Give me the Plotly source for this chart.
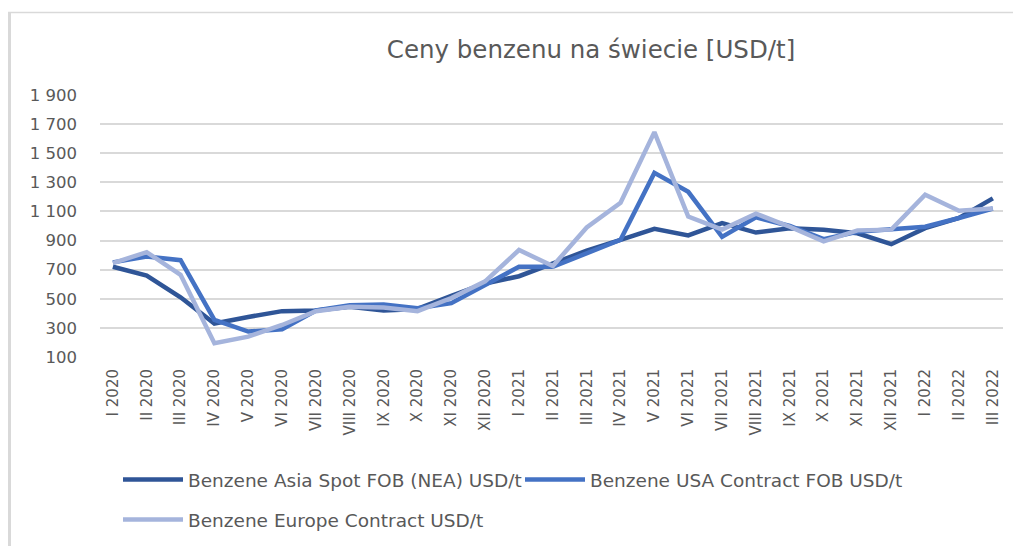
import plotly.graph_objects as go

months = ["I 2020", "II 2020", "III 2020", "IV 2020", "V 2020", "VI 2020", "VII 2020",
          "VIII 2020", "IX 2020", "X 2020", "XI 2020", "XII 2020",
          "I 2021", "II 2021", "III 2021", "IV 2021", "V 2021", "VI 2021", "VII 2021",
          "VIII 2021", "IX 2021", "X 2021", "XI 2021", "XII 2021",
          "I 2022", "II 2022", "III 2022"]

asia = [720, 660, 510, 330, 375, 415, 420, 445, 420, 430, 520, 605,
        655, 745, 830, 905, 980, 935, 1020, 955, 985, 975, 950, 875,
        985, 1055, 1190]
usa = [750, 790, 765, 355, 275, 290, 420, 455, 460, 435, 470, 595,
       720, 720, 810, 905, 1365, 1235, 925, 1060, 1000, 910, 960, 975,
       995, 1055, 1120]
europe = [745, 820, 665, 195, 240, 320, 415, 445, 440, 415, 505, 620,
          835, 725, 990, 1160, 1645, 1065, 975, 1085, 995, 895, 970, 975,
          1215, 1105, 1120]

y_ticks = list(range(100, 2000, 200))
y_ticktext = [f"{v:,}".replace(",", " ") for v in y_ticks]

series_names = ["Benzene Asia Spot FOB (NEA) USD/t",
                "Benzene USA Contract FOB USD/t",
                "Benzene Europe Contract USD/t"]
colors = ["#2F5597", "#4472C4", "#A5B4DC"]

FONT = "DejaVu Sans"
GREY = "#595959"
OFF = 8                      # browser body margin
W, H = 1021 - OFF, 546 - OFF
# plot area in page pixels: x 100..1003, y 95..357
ML = 100 - OFF
MT = 95 - OFF
MR = W - (1003 - OFF)
MB = H - (357 - OFF)

fig = go.Figure()
for name, vals, col, lg in zip(series_names, [asia, usa, europe], colors,
                               ["legend", "legend", "legend2"]):
    fig.add_trace(go.Scatter(x=months, y=vals, mode="lines", name=name,
                             line=dict(color=col, width=4.5), legend=lg))

pw = W - ML - MR
ph = H - MT - MB
def px_x(px):
    return (px - OFF - ML) / pw
def px_y(py):
    return (H - MB - (py - OFF)) / ph

# chart border (left and top)
fig.add_shape(type="line", xref="paper", yref="paper",
              x0=px_x(9.5), x1=px_x(9.5), y0=px_y(12), y1=px_y(560),
              line=dict(color="#D9D9D9", width=3))
fig.add_shape(type="line", xref="paper", yref="paper",
              x0=px_x(8), x1=px_x(1030), y0=px_y(12.5), y1=px_y(12.5),
              line=dict(color="#D9D9D9", width=1.5))

fig.update_layout(
    width=W, height=H, autosize=False,
    margin=dict(l=ML, r=MR, t=MT, b=MB, pad=0),
    paper_bgcolor="white", plot_bgcolor="white",
    font=dict(family=FONT, color=GREY),
    title=dict(text="Ceny benzenu na świecie [USD/t]", xref="container", yref="container",
               x=(591 - OFF) / W, xanchor="center", y=1 - (49 - OFF) / H, yanchor="middle",
               font=dict(family=FONT, size=24.5, color=GREY)),
    xaxis=dict(type="category", range=[-0.38, 26.3], tickangle=-90,
               tickfont=dict(family=FONT, size=15, color=GREY),
               showgrid=False, showline=False, ticks="", zeroline=False,
               ticklabelstandoff=8),
    yaxis=dict(range=[100, 1900], tickvals=y_ticks, ticktext=y_ticktext,
               tickfont=dict(family=FONT, size=16.5, color=GREY),
               showgrid=True, gridcolor="#D9D9D9", gridwidth=1.5,
               showline=False, zeroline=False, ticks="", ticklabelstandoff=22),
    legend=dict(orientation="h", xref="container", yref="container",
                x=(118 - OFF) / W, xanchor="left", y=1 - (480 - OFF) / H, yanchor="middle",
                font=dict(family=FONT, size=18.5, color=GREY),
                itemwidth=60, entrywidth=327, entrywidthmode="pixels",
                bgcolor="rgba(0,0,0,0)"),
    legend2=dict(orientation="h", xref="container", yref="container",
                 x=(118 - OFF) / W, xanchor="left", y=1 - (520 - OFF) / H, yanchor="middle",
                 font=dict(family=FONT, size=18.5, color=GREY),
                 itemwidth=60, bgcolor="rgba(0,0,0,0)"),
    showlegend=True,
)

fig.write_html("out.html")
